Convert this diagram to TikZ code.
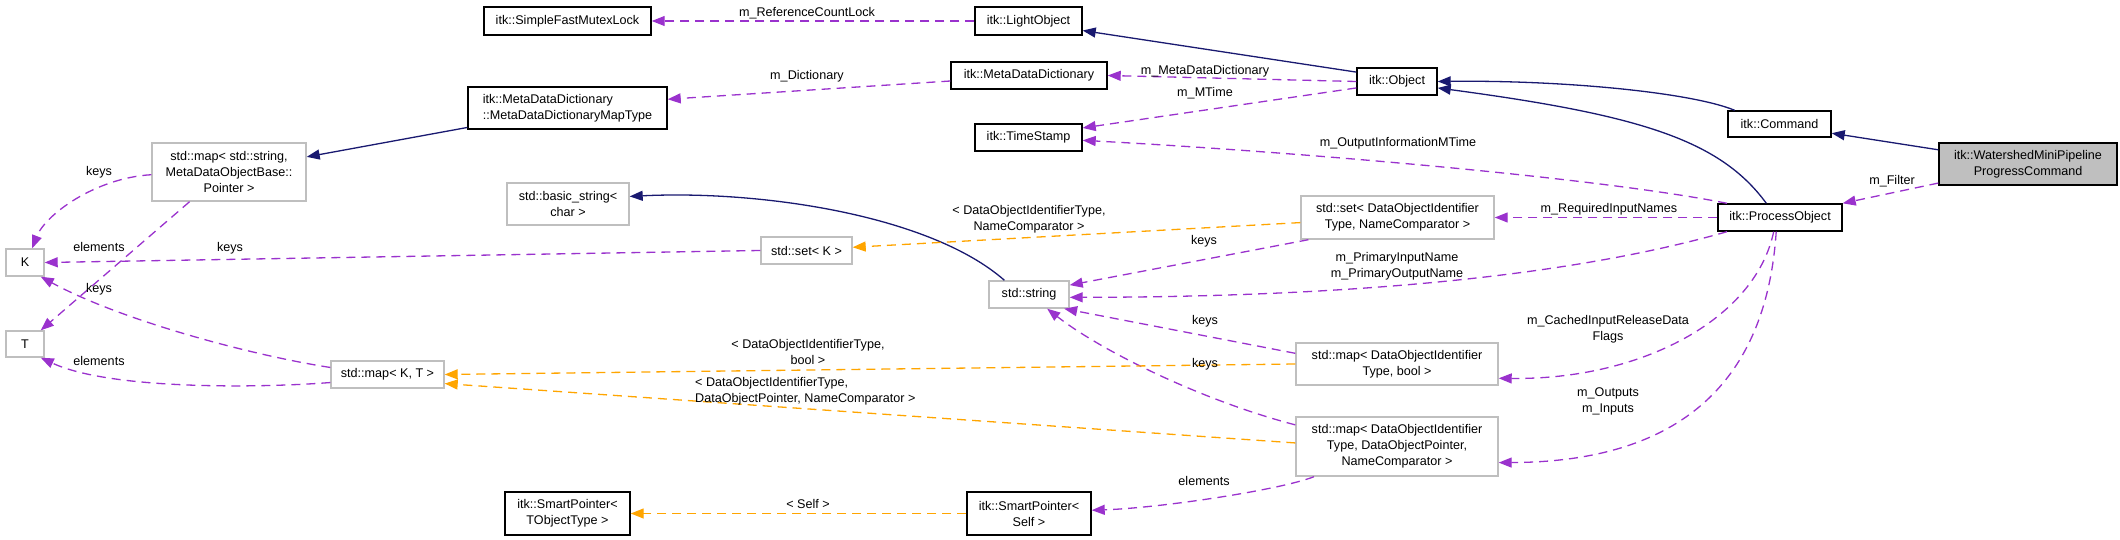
\documentclass[tikz,border=0pt]{standalone}
\usepackage{fontspec}
\setmainfont{Liberation Sans}
\usetikzlibrary{arrows.meta}
\definecolor{inhblue}{HTML}{191970}
\definecolor{usepurple}{HTML}{9A32CD}
\definecolor{tplorange}{HTML}{FFA500}
\definecolor{boxgray}{HTML}{BFBFBF}

\begin{document}
\begin{tikzpicture}[>={Triangle[length=13pt,width=10pt]},x=1pt,y=-1pt,
  font=\fontsize{12.6}{16}\selectfont,
  cls/.style={draw=black,line width=1.4pt,inner sep=0pt,align=center},
  ext/.style={draw=boxgray,line width=1.4pt,inner sep=0pt,align=center},
  inh/.style={->,inhblue,line width=1.3pt},
  usage/.style={->,usepurple,line width=1.3pt,dash pattern=on 9pt off 6pt},
  tmpl/.style={->,tplorange,line width=1.3pt,dash pattern=on 9pt off 6pt},
  lab/.style={inner sep=0pt,align=center}]
\useasboundingbox (0,0) rectangle (2120,540);

\node[cls,minimum width=167pt,minimum height=28pt] (mutex) at (567.5,21) {itk::SimpleFastMutexLock};
\node[cls,minimum width=107pt,minimum height=28pt] (light) at (1028.5,21) {itk::LightObject};
\node[cls,minimum width=199pt,minimum height=42pt,align=left] (maptype) at (567.5,108) {itk::MetaDataDictionary\\::MetaDataDictionaryMapType};
\node[cls,minimum width=156pt,minimum height=27pt] (dict) at (1029,75.5) {itk::MetaDataDictionary};
\node[cls,minimum width=80pt,minimum height=27pt] (obj) at (1397,81.5) {itk::Object};
\node[cls,minimum width=107pt,minimum height=27pt] (ts) at (1028.5,137.5) {itk::TimeStamp};
\node[cls,minimum width=103pt,minimum height=26pt] (cmd) at (1779.5,124) {itk::Command};
\node[cls,fill=boxgray,minimum width=178pt,minimum height=42pt] (ws) at (2028,164) {itk::WatershedMiniPipeline\\ProgressCommand};
\node[cls,minimum width=124pt,minimum height=27pt] (proc) at (1780,217.5) {itk::ProcessObject};
\node[ext,minimum width=154pt,minimum height=58pt] (ms) at (229,172) {std::map< std::string,\\MetaDataObjectBase::\\Pointer >};
\node[ext,minimum width=122pt,minimum height=42pt] (bs) at (568,204) {std::basic\_string<\\char >};
\node[ext,minimum width=38pt,minimum height=27pt] (K) at (25,262.5) {K};
\node[ext,minimum width=38pt,minimum height=26pt] (T) at (25,344) {T};
\node[ext,minimum width=91pt,minimum height=27pt] (sk) at (806.5,250.5) {std::set< K >};
\node[ext,minimum width=193pt,minimum height=43pt] (sdo) at (1397.5,217.5) {std::set< DataObjectIdentifier\\Type, NameComparator >};
\node[ext,minimum width=80pt,minimum height=27pt] (str) at (1029,294.5) {std::string};
\node[ext,minimum width=113pt,minimum height=27pt] (mkt) at (387.5,374.5) {std::map< K, T >};
\node[ext,minimum width=202pt,minimum height=42pt] (mb) at (1397,364) {std::map< DataObjectIdentifier\\Type, bool >};
\node[ext,minimum width=202pt,minimum height=59pt] (mp) at (1397,446.5) {std::map< DataObjectIdentifier\\Type, DataObjectPointer,\\NameComparator >};
\node[cls,minimum width=125pt,minimum height=43pt] (spt) at (567.5,513.5) {itk::SmartPointer<\\TObjectType >};
\node[cls,minimum width=124pt,minimum height=43pt] (sps) at (1029,513.5) {itk::SmartPointer<\\Self >};

\draw[inh] (obj.167) -- (light.-10);
\draw[inh] (cmd.163) .. controls (1690,92) and (1560,80) .. (obj.east);
\draw[inh] (proc.134) .. controls (1720,140) and (1640,115) .. (obj.-9);
\draw[inh] (ws.171) -- (cmd.-10);
\draw[inh] (maptype.191) -- (ms.11);
\draw[inh] (str.150) .. controls (930,215) and (760,190) .. (bs.7);

\draw[usage] (light.west) -- (mutex.east);
\draw[usage] (dict.184) -- (maptype.5);
\draw[usage] (obj.west) -- (dict.east);
\draw[usage] (obj.189) -- (ts.10);
\draw[usage] (proc.165) .. controls (1600,178) and (1300,152) .. (ts.-3);
\draw[usage] (ws.192) -- (proc.north east);
\draw[usage] (proc.west) -- (sdo.east);
\draw[usage] (proc.195) .. controls (1600,268) and (1400,297) .. (str.-4);
\draw[usage] (sdo.194) -- (str.13);
\draw[usage] (mb.174) -- (str.-22);
\draw[usage] (mp.168) .. controls (1200,400) and (1100,350) .. (str.-38);
\draw[usage] (proc.246) .. controls (1755,320) and (1640,380) .. (mb.-8);
\draw[usage] (proc.255) .. controls (1765,400) and (1660,462) .. (mp.-9);
\draw[usage] (mp.200) .. controls (1280,490) and (1160,508) .. (sps.3);
\draw[usage] (ms.182) .. controls (95,178) and (45,215) .. (K.63);
\draw[usage] (ms.217) -- (T.41);
\draw[usage] (sk.west) -- (K.east);
\draw[usage] (mkt.173) .. controls (250,355) and (120,320) .. (K.-42);
\draw[usage] (mkt.188) .. controls (260,388) and (110,390) .. (T.-41);

\draw[tmpl] (sdo.183) -- (sk.4);
\draw[tmpl] (mb.west) -- (mkt.east);
\draw[tmpl] (mp.178) -- (mkt.-9);
\draw[tmpl] (sps.west) -- (spt.east);

\node[lab] (lRefLock) at (807,13) {m\_ReferenceCountLock};
\node[lab] (lDict) at (807,76) {m\_Dictionary};
\node[lab] (lMDD) at (1205,71) {m\_MetaDataDictionary};
\node[lab] (lMTime) at (1205,93) {m\_MTime};
\node[lab] (lOutMTime) at (1398,143) {m\_OutputInformationMTime};
\node[lab] (lFilter) at (1892,181) {m\_Filter};
\node[lab] (lReqNames) at (1609,209) {m\_RequiredInputNames};
\node[lab] (lPrimary) at (1397,266.5) {m\_PrimaryInputName\\m\_PrimaryOutputName};
\node[lab] (lKeysSet) at (1204,241) {keys};
\node[lab] (lSetTpl) at (1029,219) {< DataObjectIdentifierType,\\NameComparator >};
\node[lab] (lKeysK) at (230,248) {keys};
\node[lab] (lKeysBool) at (1205,321) {keys};
\node[lab] (lKeysPtr) at (1205,364) {keys};
\node[lab] (lBoolTpl) at (808,351.5) {< DataObjectIdentifierType,\\bool >};
\node[lab,align=left,anchor=west] (lPtrTpl) at (695,391.5) {< DataObjectIdentifierType,\\DataObjectPointer, NameComparator >};
\node[lab] (lElemPtr) at (1204,481) {elements};
\node[lab] (lSelf) at (808,504) {< Self >};
\node[lab] (lCached) at (1608,329) {m\_CachedInputReleaseData\\Flags};
\node[lab] (lOutIn) at (1608,401) {m\_Outputs\\m\_Inputs};
\node[lab] (lKeysMs) at (99,172) {keys};
\node[lab] (lElemMs) at (99,247) {elements};
\node[lab] (lKeysMkt) at (99,289) {keys};
\node[lab] (lElemMkt) at (99,361) {elements};
\end{tikzpicture}
\end{document}
